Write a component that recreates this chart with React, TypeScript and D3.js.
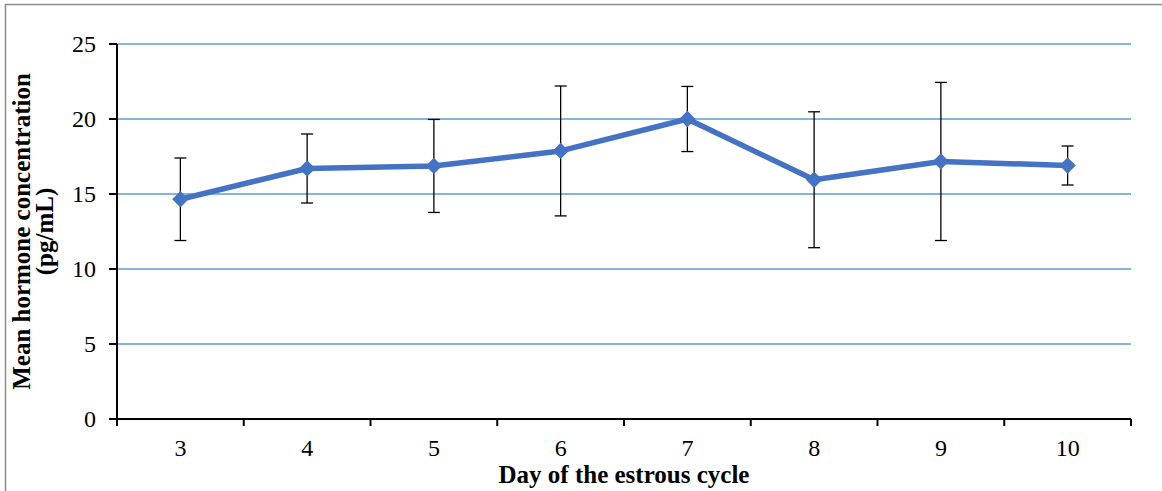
import React from "react";
import * as d3 from "d3";

// Mean hormone concentration per day of the estrous cycle, with error bars
const days = ["3", "4", "5", "6", "7", "8", "9", "10"];
const means = [14.65, 16.7, 16.87, 17.87, 20.0, 15.95, 17.17, 16.9];
const errors = [2.75, 2.3, 3.1, 4.33, 2.17, 4.53, 5.27, 1.3];
const yTicks = [0, 5, 10, 15, 20, 25];

const width = 1162;
const height = 491;
const margin = { top: 44, right: 31, bottom: 72, left: 117 };

const App = () => {
  const x = d3
    .scaleBand()
    .domain(days)
    .range([margin.left, width - margin.right]);
  const y = d3
    .scaleLinear()
    .domain([0, 25])
    .range([height - margin.bottom, margin.top]);

  const cx = (d) => x(d) + x.bandwidth() / 2;
  const points = days.map((d, i) => [cx(d), y(means[i])]);
  const line = d3.line()(points);
  const diamond = d3.symbol().type(d3.symbolDiamond2).size(170)();

  const font = "'Liberation Serif', 'Times New Roman', serif";
  const x0 = margin.left;
  const x1 = width - margin.right;
  const yBase = y(0);

  // band boundaries for x ticks
  const bounds = days.map((d) => x(d)).concat([x1]);

  return (
    <svg
      width={width}
      height={height}
      style={{ position: "absolute", left: 0, top: 0, background: "#fff" }}
      fontFamily={font}
    >
      {/* frame */}
      <line x1={5} y1={4.5} x2={width} y2={4.5} stroke="#8c8c8c" strokeWidth={1.5} />
      <line x1={5.5} y1={4} x2={5.5} y2={height} stroke="#8c8c8c" strokeWidth={1.5} />

      {/* gridlines */}
      {yTicks
        .filter((t) => t > 0)
        .map((t) => (
          <line
            key={t}
            x1={x0}
            x2={x1}
            y1={y(t)}
            y2={y(t)}
            stroke="#5B9BD5"
            strokeWidth={1.5}
          />
        ))}

      {/* y axis */}
      <line x1={x0} x2={x0} y1={y(25)} y2={yBase} stroke="#000" strokeWidth={2} />
      {yTicks.map((t) => (
        <g key={t}>
          <line x1={x0 - 8} x2={x0} y1={y(t)} y2={y(t)} stroke="#000" strokeWidth={2} />
          <text
            x={96}
            y={y(t)}
            dy="0.34em"
            textAnchor="end"
            fontSize={24}
          >
            {t}
          </text>
        </g>
      ))}

      {/* x axis */}
      <line x1={x0} x2={x1} y1={yBase} y2={yBase} stroke="#000" strokeWidth={2} />
      {bounds.map((b, i) => (
        <line key={i} x1={b} x2={b} y1={yBase} y2={yBase + 7} stroke="#000" strokeWidth={2} />
      ))}
      {days.map((d) => (
        <text key={d} x={cx(d)} y={456} textAnchor="middle" fontSize={24}>
          {d}
        </text>
      ))}

      {/* error bars */}
      {days.map((d, i) => {
        const c = cx(d);
        const top = y(means[i] + errors[i]);
        const bot = y(means[i] - errors[i]);
        return (
          <g key={d} stroke="#000" strokeWidth={1.3}>
            <line x1={c} x2={c} y1={top} y2={bot} />
            <line x1={c - 6} x2={c + 6} y1={top} y2={top} />
            <line x1={c - 6} x2={c + 6} y1={bot} y2={bot} />
          </g>
        );
      })}

      {/* series */}
      <path d={line} fill="none" stroke="#4472C4" strokeWidth={5.5} strokeLinejoin="round" />
      {points.map((p, i) => (
        <path key={i} d={diamond} transform={`translate(${p[0]},${p[1]})`} fill="#4472C4" />
      ))}

      {/* titles */}
      <text x={(x0 + x1) / 2} y={483} textAnchor="middle" fontSize={25} fontWeight="bold">
        Day of the estrous cycle
      </text>
      <text
        transform={`translate(30,${(y(25) + yBase) / 2}) rotate(-90)`}
        textAnchor="middle"
        fontSize={25}
        fontWeight="bold"
      >
        Mean hormone concentration
      </text>
      <text
        transform={`translate(53,${(y(25) + yBase) / 2}) rotate(-90)`}
        textAnchor="middle"
        fontSize={25}
        fontWeight="bold"
      >
        (pg/mL)
      </text>
    </svg>
  );
};

export default App;
